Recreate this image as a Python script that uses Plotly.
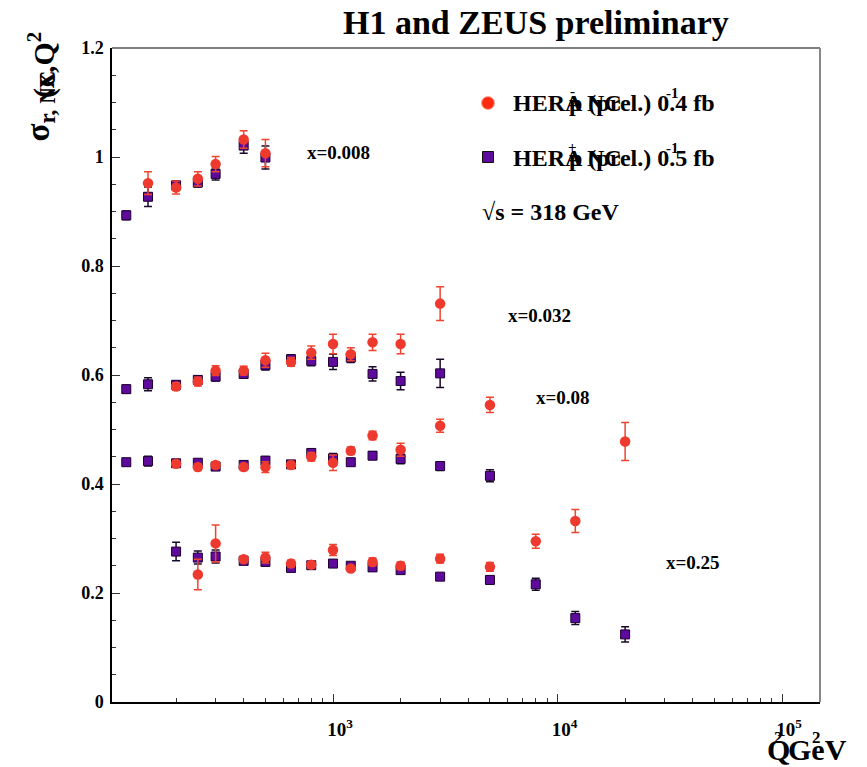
import plotly.graph_objects as go

# ---- measured reduced cross sections sigma_r,NC(x, Q^2) ----
# e-p (red circles) and e+p (purple squares) in four x bins

# x = 0.008
em_q2_x1 = [150, 200, 250, 300, 400, 500]
em_sig_x1 = [0.952, 0.944, 0.960, 0.987, 1.032, 1.007]
em_err_x1 = [0.021, 0.012, 0.013, 0.014, 0.016, 0.025]
ep_q2_x1 = [120, 150, 200, 250, 300, 400, 500]
ep_sig_x1 = [0.893, 0.927, 0.948, 0.953, 0.969, 1.021, 0.999]
ep_err_x1 = [0.008, 0.018, 0.008, 0.008, 0.011, 0.014, 0.021]

# x = 0.032
em_q2_x2 = [200, 250, 300, 400, 500, 650, 800, 1000, 1200, 1500, 2000, 3000]
em_sig_x2 = [0.579, 0.588, 0.608, 0.608, 0.627, 0.624, 0.641, 0.657, 0.638, 0.660, 0.657, 0.731]
em_err_x2 = [0.007, 0.008, 0.009, 0.008, 0.013, 0.008, 0.012, 0.018, 0.012, 0.015, 0.018, 0.031]
ep_q2_x2 = [120, 150, 200, 250, 300, 400, 500, 650, 800, 1000, 1200, 1500, 2000, 3000]
ep_sig_x2 = [0.574, 0.583, 0.582, 0.591, 0.597, 0.602, 0.618, 0.629, 0.626, 0.624, 0.632, 0.602, 0.589, 0.603]
ep_err_x2 = [0.007, 0.012, 0.007, 0.007, 0.008, 0.007, 0.009, 0.008, 0.009, 0.014, 0.009, 0.013, 0.016, 0.026]

# x = 0.08
em_q2_x3 = [200, 250, 300, 400, 500, 650, 800, 1000, 1200, 1500, 2000, 3000, 5000]
em_sig_x3 = [0.437, 0.431, 0.435, 0.431, 0.431, 0.435, 0.450, 0.439, 0.461, 0.489, 0.463, 0.507, 0.545]
em_err_x3 = [0.006, 0.006, 0.006, 0.006, 0.010, 0.006, 0.008, 0.014, 0.007, 0.008, 0.012, 0.012, 0.014]
ep_q2_x3 = [120, 150, 200, 250, 300, 400, 500, 650, 800, 1000, 1200, 1500, 2000, 3000, 5000]
ep_sig_x3 = [0.440, 0.442, 0.438, 0.439, 0.432, 0.435, 0.443, 0.436, 0.457, 0.447, 0.440, 0.452, 0.446, 0.433, 0.415]
ep_err_x3 = [0.006, 0.009, 0.006, 0.006, 0.006, 0.006, 0.007, 0.006, 0.007, 0.009, 0.006, 0.007, 0.009, 0.008, 0.011]

# x = 0.25
em_q2_x4 = [250, 300, 400, 500, 650, 800, 1000, 1200, 1500, 2000, 3000, 5000, 8000, 12000, 20000]
em_sig_x4 = [0.234, 0.291, 0.262, 0.265, 0.254, 0.252, 0.279, 0.245, 0.257, 0.250, 0.263, 0.248, 0.295, 0.332, 0.478]
em_err_x4 = [0.028, 0.034, 0.006, 0.010, 0.006, 0.006, 0.010, 0.005, 0.007, 0.007, 0.008, 0.008, 0.013, 0.021, 0.035]
ep_q2_x4 = [200, 250, 300, 400, 500, 650, 800, 1000, 1200, 1500, 2000, 3000, 5000, 8000, 12000, 20000]
ep_sig_x4 = [0.276, 0.265, 0.267, 0.259, 0.257, 0.246, 0.251, 0.254, 0.250, 0.247, 0.242, 0.230, 0.224, 0.216, 0.154, 0.124]
ep_err_x4 = [0.017, 0.012, 0.012, 0.005, 0.005, 0.005, 0.005, 0.006, 0.005, 0.006, 0.006, 0.005, 0.007, 0.011, 0.012, 0.014]

bin_labels = ["x=0.008", "x=0.032", "x=0.08", "x=0.25"]

x_tickvals = [1e3, 1e4, 1e5]
x_ticktext = ["10<sup>3</sup>", "10<sup>4</sup>", "10<sup>5</sup>"]
y_tickvals = [0, 0.2, 0.4, 0.6, 0.8, 1.0, 1.2]
y_ticktext = ["0", "0.2", "0.4", "0.6", "0.8", "1", "1.2"]

RED = "#ee3a2e"
PURPLE = "#5e0a9c"
SERIF = "Liberation Serif, Times New Roman, serif"

W, H = 867, 767
ML, MR, MT, MB = 112, 47, 48, 65
PW, PH = W - ML - MR, H - MT - MB


def px(x):
    return (x - ML) / PW


def py(y):
    return (H - MB - y) / PH


ep_q2 = ep_q2_x1 + ep_q2_x2 + ep_q2_x3 + ep_q2_x4
ep_sig = ep_sig_x1 + ep_sig_x2 + ep_sig_x3 + ep_sig_x4
ep_err = ep_err_x1 + ep_err_x2 + ep_err_x3 + ep_err_x4
em_q2 = em_q2_x1 + em_q2_x2 + em_q2_x3 + em_q2_x4
em_sig = em_sig_x1 + em_sig_x2 + em_sig_x3 + em_sig_x4
em_err = em_err_x1 + em_err_x2 + em_err_x3 + em_err_x4

fig = go.Figure()

fig.add_trace(go.Scatter(
    x=ep_q2, y=ep_sig, mode="markers", name="e+p",
    marker=dict(symbol="square", size=9, color=PURPLE,
                line=dict(color="#1c0030", width=1)),
    error_y=dict(type="data", array=ep_err, color="#1a0a2a", thickness=1.5, width=4),
    showlegend=False,
))
fig.add_trace(go.Scatter(
    x=em_q2, y=em_sig, mode="markers", name="e-p",
    marker=dict(symbol="circle", size=10.5, color=RED, line=dict(width=0)),
    error_y=dict(type="data", array=em_err, color="#f0442f", thickness=1.5, width=4),
    showlegend=False,
))

annotations = []


def text(s, x, y, size, xanchor="left", yanchor="middle", angle=0):
    annotations.append(dict(
        text=s, x=px(x), y=py(y), xref="paper", yref="paper",
        xanchor=xanchor, yanchor=yanchor, showarrow=False, textangle=angle,
        font=dict(family=SERIF, size=size, color="black", weight="bold"),
    ))


# title
text("H1 and ZEUS preliminary", 536, 22, 34, xanchor="center")

# bin labels
text(bin_labels[0], 305, 152, 19)
text(bin_labels[1], 506, 315, 19)
text(bin_labels[2], 534, 397, 19)
text(bin_labels[3], 664, 562, 19)

# legend entries (ROOT-style overlapped latex)
text("HERA NC", 511, 103, 24)
text("p (prel.) 0.4 fb", 567, 103, 24)
text("-", 568, 91, 15)
text("-1", 664, 93, 15)
text("HERA NC", 511, 158, 24)
text("p (prel.) 0.5 fb", 567, 158, 24)
text("+", 566, 147, 15)
text("-1", 664, 148, 15)
text("√s = 318 GeV", 480, 212, 24)

# axis titles
text("σ<sub>r, NC</sub>", 40, 144, 33, xanchor="center", yanchor="bottom", angle=-90)
text("(x,Q<sup>2</sup>", 42, 30, 30, xanchor="center", yanchor="top", angle=-90)
text("Q", 765, 749, 30)
text("GeV", 786, 749, 30)
text("2", 772, 737, 17)
text("2", 810, 737, 17)

shapes = [
    dict(type="line", xref="paper", yref="paper", x0=0, x1=1, y0=1, y1=1,
         line=dict(color="#555555", width=1.5)),
    dict(type="line", xref="paper", yref="paper", x0=1, x1=1, y0=0, y1=1,
         line=dict(color="#888888", width=2)),
    dict(type="circle", xref="paper", yref="paper", xsizemode="pixel", ysizemode="pixel",
         xanchor=px(488), yanchor=py(103), x0=-6.5, x1=6.5, y0=-6.5, y1=6.5,
         fillcolor="#ff2a12", line=dict(color="#ffb0a0", width=1)),
    dict(type="rect", xref="paper", yref="paper", xsizemode="pixel", ysizemode="pixel",
         xanchor=px(488), yanchor=py(157), x0=-5.5, x1=5.5, y0=-5.5, y1=5.5,
         fillcolor=PURPLE, line=dict(color="#111111", width=1)),
]

minor_x = [k * 10 ** n for n in (2, 3, 4, 5) for k in range(2, 10)]

fig.update_layout(
    width=W, height=H,
    margin=dict(l=ML, r=MR, t=MT, b=MB, pad=0),
    paper_bgcolor="white", plot_bgcolor="white",
    font=dict(family=SERIF, size=18, color="black", weight="bold"),
    annotations=annotations, shapes=shapes,
    xaxis=dict(
        type="log", range=[2.0156, 5.169],
        showgrid=False, zeroline=False,
        showline=True, linecolor="black", linewidth=1.5,
        tickmode="array", tickvals=x_tickvals, ticktext=x_ticktext,
        ticks="inside", ticklen=8, tickcolor="#333333", tickwidth=1,
        ticklabelstandoff=9, ticklabelshift=7,
        tickfont=dict(family=SERIF, size=19, weight="bold", color="black"),
        minor=dict(tickmode="array", tickvals=minor_x, ticks="inside",
                   ticklen=4, tickcolor="#333333", tickwidth=1, showgrid=False),
    ),
    yaxis=dict(
        range=[0, 1.2],
        showgrid=False, zeroline=False,
        showline=True, linecolor="black", linewidth=1.5,
        tickmode="array", tickvals=y_tickvals, ticktext=y_ticktext,
        ticks="inside", ticklen=8, tickcolor="#333333", tickwidth=1,
        ticklabelstandoff=3,
        tickfont=dict(family=SERIF, size=18, weight="bold", color="black"),
        minor=dict(dtick=0.05, ticks="inside", ticklen=4, tickcolor="#333333",
                   tickwidth=1, showgrid=False),
    ),
)

fig.write_html("out.html")
